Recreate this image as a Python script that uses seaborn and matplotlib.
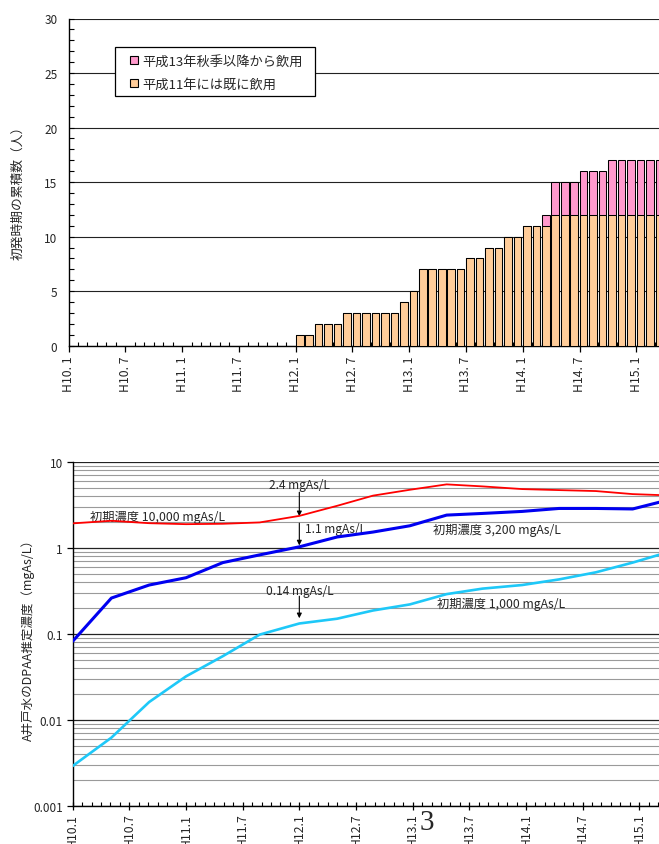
import matplotlib
matplotlib.use('Agg')
import matplotlib.pyplot as plt
import seaborn as sns
import pandas as pd
from matplotlib.patches import Patch, Rectangle
from matplotlib.ticker import FixedLocator, MultipleLocator, NullFormatter, LogLocator, FixedFormatter

# ---------------- data ----------------
# top chart: monthly bars, month index counted from H10.1 (=0)
bar_months = list(range(24, 63))          # H12.1 ... H15.3
orange_counts = [1, 1, 2, 2, 2, 3, 3, 3, 3, 3, 3, 4,
                 5, 7, 7, 7, 7, 7, 8, 8, 9, 9, 10, 10,
                 11, 11, 11, 12, 12, 12, 12, 12, 12, 12, 12, 12,
                 12, 12, 12]
pink_counts = [0, 0, 0, 0, 0, 0, 0, 0, 0, 0, 0, 0,
               0, 0, 0, 0, 0, 0, 0, 0, 0, 0, 0, 0,
               0, 0, 1, 3, 3, 3, 4, 4, 4, 5, 5, 5,
               5, 5, 5]
legend_labels = ['平成13年秋季以降から飲用', '平成11年には既に飲用']
top_tick_labels = ['H10. 1', 'H10. 7', 'H11. 1', 'H11. 7', 'H12. 1', 'H12. 7',
                   'H13. 1', 'H13. 7', 'H14. 1', 'H14. 7', 'H15. 1']
top_ylabel = '初発時期の累積数（人）'

# bottom chart: estimated concentration lines
sample_months = [0, 4.1, 8.1, 12, 15.9, 19.8, 24, 28, 31.8, 35.7, 39.6, 43.4,
                 47.6, 51.5, 55.4, 59.3, 63]
conc_10000 = [1.93, 2.07, 1.94, 1.89, 1.91, 1.98, 2.36, 3.09, 4.06, 4.75, 5.49, 5.2,
              4.84, 4.71, 4.59, 4.23, 4.09]
conc_3200 = [0.082, 0.261, 0.37, 0.45, 0.675, 0.83, 1.03, 1.34, 1.53, 1.81, 2.41, 2.52,
             2.66, 2.88, 2.88, 2.84, 3.6]
conc_1000 = [0.0029, 0.0062, 0.0161, 0.032, 0.055, 0.098, 0.132, 0.15, 0.187, 0.22, 0.29, 0.336,
             0.37, 0.43, 0.52, 0.675, 0.89]
bottom_tick_labels = ['H10.1', 'H10.7', 'H11.1', 'H11.7', 'H12.1', 'H12.7',
                      'H13.1', 'H13.7', 'H14.1', 'H14.7', 'H15.1']
y_tick_values = [0.001, 0.01, 0.1, 1, 10]
y_tick_labels = ['0.001', '0.01', '0.1', '1', '10']
bottom_ylabel = 'A井戸水のDPAA推定濃度（mgAs/L）'

# ---------------- style ----------------
sns.set_theme(style='white')
plt.rcParams['font.family'] = ['Noto Sans CJK JP', 'DejaVu Sans']

W, H = 659, 845
fig = plt.figure(figsize=(W / 100, H / 100), dpi=100)
fig.patch.set_facecolor('white')

# ---------------- top chart ----------------
ax1 = fig.add_axes([68.5 / W, 1 - 346.7 / H, 1 - 68.5 / W, (346.7 - 19.5) / H])
df_bars = pd.DataFrame({
    'pos': [m + 0.44 for m in bar_months],
    'orange': orange_counts,
    'total': [o + p for o, p in zip(orange_counts, pink_counts)],
})
sns.barplot(data=df_bars, x='pos', y='total', native_scale=True, color='#FF99CC',
            saturation=1, edgecolor='black', linewidth=0.75, width=0.8,
            errorbar=None, ax=ax1, zorder=3)
sns.barplot(data=df_bars, x='pos', y='orange', native_scale=True, color='#FFCC99',
            saturation=1, edgecolor='black', linewidth=0.75, width=0.8,
            errorbar=None, ax=ax1, zorder=3)
ax1.set_xlim(0, 62.4)
ax1.set_ylim(0, 30)
ax1.set_xlabel('')
ax1.set_ylabel('')
ax1.set_facecolor('white')
ax1.set_axisbelow(True)
ax1.yaxis.set_major_locator(MultipleLocator(5))
ax1.yaxis.set_minor_locator(MultipleLocator(1))
ax1.grid(axis='y', which='major', color='#222222', linewidth=0.8)
ax1.grid(axis='x', visible=False)
ax1.xaxis.set_major_locator(FixedLocator(list(range(0, 61, 6))))
ax1.xaxis.set_major_formatter(FixedFormatter(top_tick_labels))
ax1.xaxis.set_minor_locator(MultipleLocator(1))
ax1.tick_params(axis='x', which='major', direction='out', length=4, width=0.9,
                labelsize=8.8, rotation=90, pad=3, color='black', bottom=True)
ax1.tick_params(axis='x', which='minor', direction='in', length=3, width=0.8,
                color='black', bottom=True)
ax1.tick_params(axis='y', which='both', direction='in', length=3.5, width=0.8,
                labelsize=8.5, color='black', left=True, pad=8)
for s in ['top', 'right']:
    ax1.spines[s].set_visible(False)
for s in ['left', 'bottom']:
    ax1.spines[s].set_color('black')
    ax1.spines[s].set_linewidth(1.0)

# legend with square frame
fig.add_artist(Rectangle((115 / W, 1 - 97 / H), 200 / W, 49 / H, transform=fig.transFigure,
                         facecolor='white', edgecolor='black', linewidth=0.9, zorder=4))
handles = [Patch(facecolor='#FF99CC', edgecolor='black', linewidth=0.8, label=legend_labels[0]),
           Patch(facecolor='#FFCC99', edgecolor='black', linewidth=0.8, label=legend_labels[1])]
leg = fig.legend(handles=handles, loc='upper left', bbox_to_anchor=(127 / W, 1 - 53 / H),
                 frameon=False, fontsize=9.5, handlelength=0.6, handleheight=0.6,
                 handletextpad=0.35, borderpad=0.2, labelspacing=0.75, borderaxespad=0)
leg.set_zorder(5)

fig.text(18 / W, 1 - 190 / H, top_ylabel, rotation=90, ha='center', va='center', fontsize=9.2)

# ---------------- bottom chart ----------------
ax2 = fig.add_axes([72.7 / W, 1 - 806.7 / H, 1 - 72.7 / W, (806.7 - 463) / H])
df_lines = pd.DataFrame({'month': sample_months, 'c10000': conc_10000,
                         'c3200': conc_3200, 'c1000': conc_1000})
sns.lineplot(data=df_lines, x='month', y='c10000', color='#FF0000', linewidth=1.3, ax=ax2, zorder=4)
sns.lineplot(data=df_lines, x='month', y='c3200', color='#0000F0', linewidth=2.2, ax=ax2, zorder=4)
sns.lineplot(data=df_lines, x='month', y='c1000', color='#1EC8F8', linewidth=1.9, ax=ax2, zorder=4)
ax2.set_yscale('log')
ax2.set_ylim(0.001, 10)
ax2.set_xlim(0, 62.09)
ax2.set_xlabel('')
ax2.set_ylabel('')
ax2.set_facecolor('white')
ax2.set_axisbelow(True)
ax2.yaxis.set_major_locator(FixedLocator(y_tick_values))
ax2.yaxis.set_major_formatter(FixedFormatter(y_tick_labels))
ax2.yaxis.set_minor_locator(LogLocator(base=10, subs=[2, 3, 4, 5, 6, 7, 8, 9]))
ax2.yaxis.set_minor_formatter(NullFormatter())
ax2.grid(axis='y', which='major', color='#222222', linewidth=0.9)
ax2.grid(axis='y', which='minor', color='#9a9a9a', linewidth=0.8)
ax2.grid(axis='x', visible=False)
ax2.xaxis.set_major_locator(FixedLocator(list(range(0, 61, 6))))
ax2.xaxis.set_major_formatter(FixedFormatter(bottom_tick_labels))
ax2.xaxis.set_minor_locator(MultipleLocator(1))
ax2.tick_params(axis='x', which='major', direction='inout', length=6, width=0.9,
                labelsize=8.8, rotation=90, pad=2, color='black', bottom=True)
ax2.tick_params(axis='x', which='minor', direction='in', length=3, width=0.8,
                color='black', bottom=True)
ax2.tick_params(axis='y', which='major', direction='out', length=4, width=0.9,
                labelsize=8.5, color='black', left=True, pad=3)
ax2.tick_params(axis='y', which='minor', length=0)
for s in ['top', 'right']:
    ax2.spines[s].set_visible(False)
for s in ['left', 'bottom']:
    ax2.spines[s].set_color('black')
    ax2.spines[s].set_linewidth(1.0)

# annotations
arrow_kw = dict(arrowstyle='-|>', color='black', lw=0.8, mutation_scale=7, shrinkA=0, shrinkB=0)
ax2.annotate('', xy=(24, 2.34), xytext=(24, 4.45), arrowprops=arrow_kw)
ax2.annotate('', xy=(24, 1.07), xytext=(24, 1.94), arrowprops=arrow_kw)
ax2.annotate('', xy=(24, 0.152), xytext=(24, 0.274), arrowprops=arrow_kw)
ax2.text(24, 5.51, '2.4 mgAs/L', ha='center', va='center', fontsize=8.6)
ax2.text(24.6, 1.70, '1.1 mgAs/L', ha='left', va='center', fontsize=8.6)
ax2.text(24, 0.322, '0.14 mgAs/L', ha='center', va='center', fontsize=8.6)
ax2.text(1.83, 2.34, '初期濃度 10,000 mgAs/L', ha='left', va='center', fontsize=8.8)
ax2.text(38.15, 1.65, '初期濃度 3,200 mgAs/L', ha='left', va='center', fontsize=8.8)
ax2.text(38.6, 0.227, '初期濃度 1,000 mgAs/L', ha='left', va='center', fontsize=8.8)

fig.text(28 / W, 1 - 637 / H, bottom_ylabel, rotation=90, ha='center', va='center', fontsize=9)

# page number
fig.text(427 / W, 1 - 823 / H, '3', family='Liberation Serif', fontsize=21,
         ha='center', va='center', zorder=10)

fig.savefig('out.png', dpi=100, facecolor='white')
